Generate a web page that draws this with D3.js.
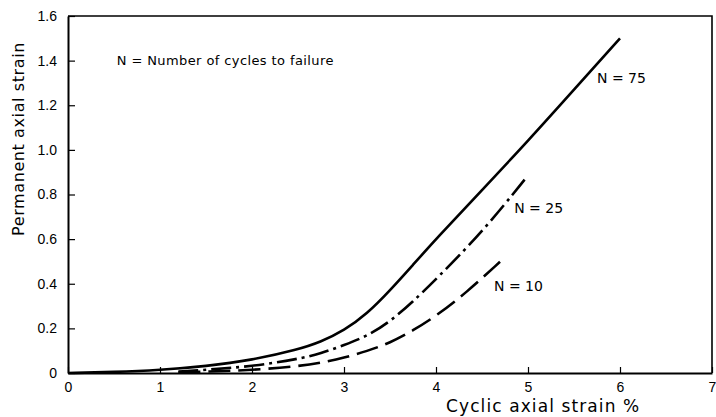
<!DOCTYPE html>
<html>
<head>
<meta charset="utf-8">
<script src="https://cdn.jsdelivr.net/npm/d3@7"></script>
<style>
  html, body { margin: 0; padding: 0; background: #fff; }
  svg { display: block; font-family: "DejaVu Sans", sans-serif; }
</style>
</head>
<body>
<div id="chart"></div>
<script>
// values
const strainN75 = [0, 0.5, 1, 1.5, 2, 2.5, 2.75, 3, 3.25, 3.5, 3.75, 4, 4.5, 5, 5.5, 6];
const permN75 = [0, 0.004, 0.013, 0.03, 0.058, 0.105, 0.14, 0.19, 0.265, 0.37, 0.485, 0.6, 0.82, 1.04, 1.27, 1.5];

const strainN25 = [1.2, 1.5, 2, 2.5, 2.75, 3, 3.25, 3.5, 3.75, 4, 4.5, 4.98];
const permN25 = [0.006, 0.014, 0.03, 0.062, 0.088, 0.125, 0.165, 0.23, 0.32, 0.42, 0.63, 0.875];

const strainN10 = [1.2, 1.5, 2, 2.5, 2.75, 3, 3.25, 3.5, 3.75, 4, 4.33, 4.7];
const permN10 = [0.003, 0.006, 0.013, 0.03, 0.046, 0.068, 0.098, 0.135, 0.19, 0.255, 0.36, 0.5];

const seriesNames = ["N = 75", "N = 25", "N = 10"];
const xTicks = [0, 1, 2, 3, 4, 5, 6, 7];
const yTicks = [0, 0.2, 0.4, 0.6, 0.8, 1.0, 1.2, 1.4, 1.6];
const xTitle = "Cyclic axial strain %";
const yTitle = "Permanent axial strain";
const note = "N = Number of cycles to failure";

const W = 716, H = 417;
const margin = { top: 16, right: 4, bottom: 44, left: 68 };

const svg = d3.select("#chart").append("svg")
  .attr("width", W)
  .attr("height", H);

const x = d3.scaleLinear().domain([0, 7]).range([margin.left, W - margin.right]);
const y = d3.scaleLinear().domain([0, 1.6]).range([H - margin.bottom, margin.top]);

// x axis, ticks pointing in
svg.append("g")
  .attr("transform", `translate(0,${y(0)})`)
  .call(d3.axisBottom(x).tickValues(xTicks).tickFormat(d3.format("d"))
    .tickSizeInner(-6).tickSizeOuter(0).tickPadding(9))
  .call(g => g.select(".domain").attr("stroke-width", 2))
  .call(g => g.selectAll(".tick line").attr("stroke-width", 1.2))
  .selectAll(".tick text")
  .attr("font-size", 14)
  .attr("fill", "#000");

// y axis
svg.append("g")
  .attr("transform", `translate(${x(0)},0)`)
  .call(d3.axisLeft(y).tickValues(yTicks)
    .tickFormat(d => d === 0 ? "0" : d.toFixed(1))
    .tickSizeInner(-7).tickSizeOuter(0).tickPadding(11))
  .call(g => g.select(".domain").attr("stroke-width", 2))
  .call(g => g.selectAll(".tick line").attr("stroke-width", 1.2))
  .selectAll(".tick text")
  .attr("font-size", 14)
  .attr("fill", "#000");

// frame top + right
svg.append("path")
  .attr("d", `M${x(0)},${y(1.6)}H${x(7)}V${y(0)}`)
  .attr("fill", "none")
  .attr("stroke", "#000")
  .attr("stroke-width", 1.6);

// titles
svg.append("text")
  .attr("x", 446)
  .attr("y", 412)
  .attr("font-size", 17)
  .attr("letter-spacing", 1.1)
  .text(xTitle);

svg.append("text")
  .attr("transform", "translate(24,139) rotate(-90)")
  .attr("text-anchor", "middle")
  .attr("font-size", 16)
  .attr("letter-spacing", 0.6)
  .text(yTitle);

svg.append("text")
  .attr("x", x(0.53))
  .attr("y", y(1.38))
  .attr("font-size", 13)
  .attr("letter-spacing", 0.4)
  .text(note);

const line = d3.line()
  .x(d => x(d[0]))
  .y(d => y(d[1]))
  .curve(d3.curveBasis);

const series = [
  { name: seriesNames[0], xs: strainN75, ys: permN75, dash: null, lx: 5.75, ly: 1.30 },
  { name: seriesNames[1], xs: strainN25, ys: permN25, dash: "20,5,3,5", lx: 4.85, ly: 0.717 },
  { name: seriesNames[2], xs: strainN10, ys: permN10, dash: "22,8", lx: 4.63, ly: 0.368 }
];

series.forEach(s => {
  svg.append("path")
    .datum(d3.zip(s.xs, s.ys))
    .attr("fill", "none")
    .attr("stroke", "#000")
    .attr("stroke-width", 2.6)
    .attr("stroke-dasharray", s.dash)
    .attr("d", line);

  svg.append("text")
    .attr("x", x(s.lx))
    .attr("y", y(s.ly))
    .attr("font-size", 14)
    .text(s.name);
});
</script>
</body>
</html>
